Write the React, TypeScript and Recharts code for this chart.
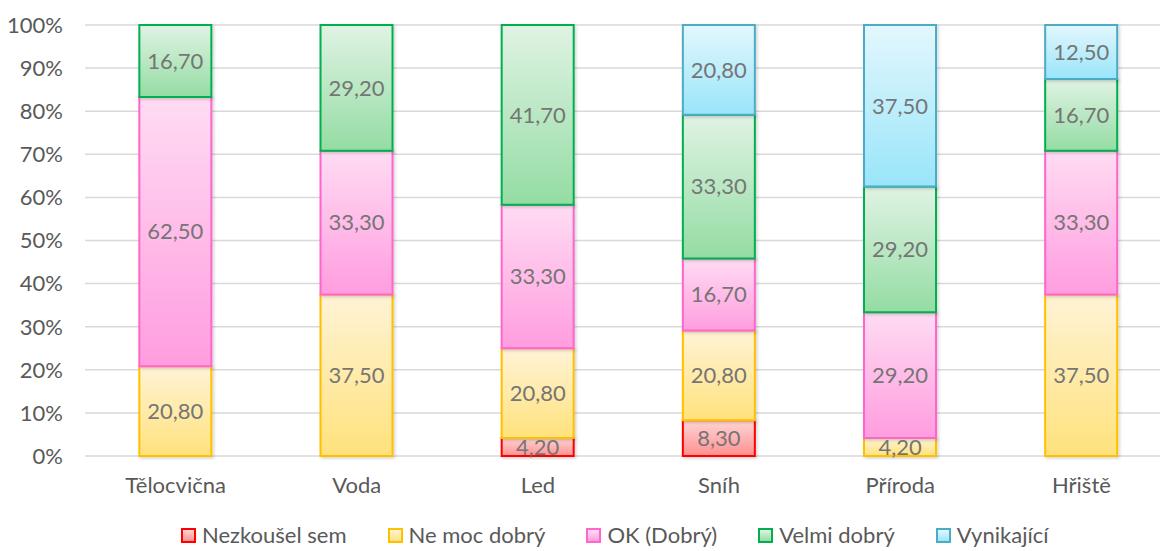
import React from 'react';
import { BarChart, Bar, XAxis, YAxis, CartesianGrid, LabelList, Legend } from 'recharts';

const categories = ['Tělocvična', 'Voda', 'Led', 'Sníh', 'Příroda', 'Hřiště'];
const nezkousel = [0, 0, 4.2, 8.3, 0, 0];
const neMocDobry = [20.8, 37.5, 20.8, 20.8, 4.2, 37.5];
const okDobry = [62.5, 33.3, 33.3, 16.7, 29.2, 33.3];
const velmiDobry = [16.7, 29.2, 41.7, 33.3, 29.2, 16.7];
const vynikajici = [0, 0, 0, 20.8, 37.5, 12.5];
const yTicks = [0, 0.1, 0.2, 0.3, 0.4, 0.5, 0.6, 0.7, 0.8, 0.9, 1];

const data = categories.map((c, i) => ({
  name: c,
  nez: nezkousel[i],
  ne: neMocDobry[i],
  ok: okDobry[i],
  velmi: velmiDobry[i],
  vyn: vynikajici[i],
}));

const series = [
  { key: 'nez', name: 'Nezkoušel sem', top: '#ffd6d6', bottom: '#ff8f8f', stroke: '#ff0000' },
  { key: 'ne', name: 'Ne moc dobrý', top: '#fff3d6', bottom: '#ffe27c', stroke: '#ffc000' },
  { key: 'ok', name: 'OK (Dobrý)', top: '#ffdcf3', bottom: '#ff9ddf', stroke: '#ff66cc' },
  { key: 'velmi', name: 'Velmi dobrý', top: '#e0f3e4', bottom: '#94dca3', stroke: '#00b050' },
  { key: 'vyn', name: 'Vynikající', top: '#e3f7fd', bottom: '#99e5fa', stroke: '#4bacc6' },
];

const FONT = 'Lato, "Open Sans", sans-serif';

const fmt = (v: any) => (v === 0 || v == null ? '' : Number(v).toFixed(2).replace('.', ','));

const LegendContent = () => (
  <div
    style={{
      position: 'absolute',
      left: 181,
      top: 0,
      display: 'flex',
      gap: 41,
      fontFamily: FONT,
      fontSize: 22,
      lineHeight: '26px',
      color: '#595959',
      whiteSpace: 'nowrap',
    }}
  >
    {series.map((s) => (
      <div key={s.key} style={{ display: 'flex', alignItems: 'center' }}>
        <div
          style={{
            width: 11,
            height: 11,
            border: `2px solid ${s.stroke}`,
            background: `linear-gradient(${s.top}, ${s.bottom})`,
            marginRight: 6,
          }}
        />
        <span>{s.name}</span>
      </div>
    ))}
  </div>
);

export default function App() {
  return (
    <div
      style={{
        position: 'absolute',
        left: 0,
        top: 0,
        width: 1160,
        height: 551,
        overflow: 'hidden',
        background: '#fff',
      }}
    >
      <BarChart
        width={1200}
        height={551}
        data={data}
        stackOffset="expand"
        barCategoryGap="30%"
        margin={{ top: 25, right: 28, bottom: 0, left: 0 }}
      >
        <defs>
          {series.map((s) => (
            <linearGradient key={s.key} id={`g-${s.key}`} x1="0" y1="0" x2="0" y2="1">
              <stop offset="0%" stopColor={s.top} />
              <stop offset="100%" stopColor={s.bottom} />
            </linearGradient>
          ))}
          <filter id="shadow" x="-10%" y="-10%" width="130%" height="130%">
            <feDropShadow dx="1.5" dy="1.5" stdDeviation="1.5" floodColor="#000" floodOpacity="0.18" />
          </filter>
        </defs>
        <CartesianGrid vertical={false} stroke="#d9d9d9" strokeWidth={1.5} />
        <XAxis
          dataKey="name"
          axisLine={false}
          tickLine={false}
          tickSize={0}
          tickMargin={21}
          height={65}
          tick={{ fill: '#595959', fontSize: 22, fontFamily: FONT }}
        />
        <YAxis
          ticks={yTicks}
          domain={[0, 1]}
          width={85}
          axisLine={false}
          tickLine={false}
          tickSize={0}
          tickMargin={22}
          tickFormatter={(v: number) => `${Math.round(v * 100)}%`}
          tick={{ fill: '#595959', fontSize: 22, fontFamily: FONT }}
        />
        <Legend
          verticalAlign="bottom"
          content={LegendContent as any}
          wrapperStyle={{ position: 'absolute', left: 0, top: 522, width: 1200, height: 30 }}
        />
        {series.map((s) => (
          <Bar
            key={s.key}
            dataKey={s.key}
            name={s.name}
            stackId="a"
            fill={`url(#g-${s.key})`}
            stroke={s.stroke}
            strokeWidth={2}
            isAnimationActive={false}
            style={{ filter: 'url(#shadow)' }}
          >
            <LabelList
              dataKey={s.key}
              position="center"
              formatter={fmt as any}
              fill="#757575"
              fontSize={22}
              fontFamily={FONT}
            />
          </Bar>
        ))}
      </BarChart>
    </div>
  );
}
